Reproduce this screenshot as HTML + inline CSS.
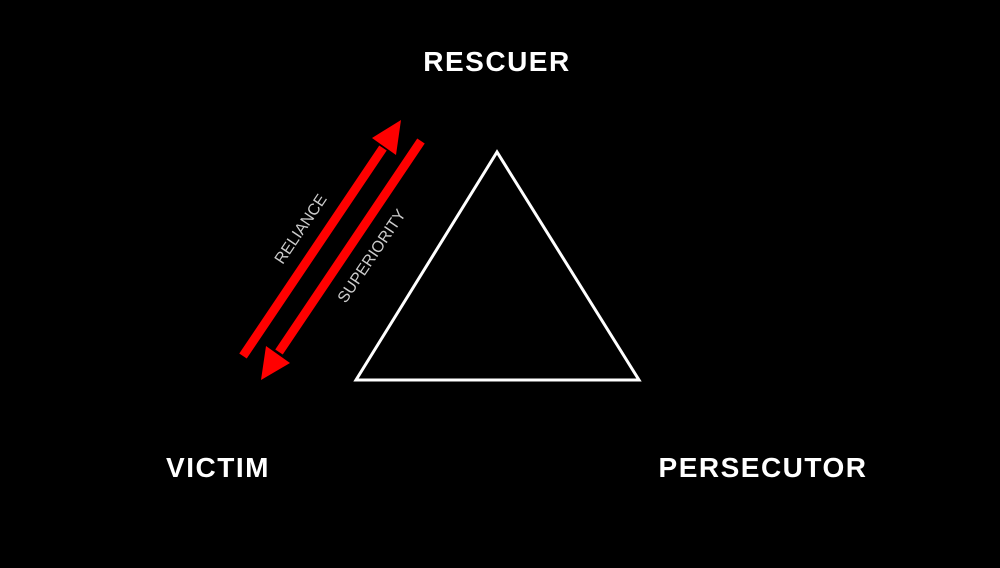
<!DOCTYPE html>
<html><head><style>
html,body{margin:0;padding:0;background:#000;}
body{width:1000px;height:563px;overflow:hidden;}
</style></head><body>
<svg width="1000" height="563" viewBox="0 0 1000 563" xmlns="http://www.w3.org/2000/svg">
<rect width="1000" height="563" fill="#000"/>
<g font-family="Liberation Sans, sans-serif" font-weight="bold" fill="#fff" font-size="28" text-anchor="middle" letter-spacing="1.5">
<text x="497" y="71">RESCUER</text>
<text x="218" y="477">VICTIM</text>
<text x="763" y="477">PERSECUTOR</text>
</g>
<polygon points="497,152 356,380 639,380" fill="none" stroke="#fff" stroke-width="3"/>
<line x1="243" y1="356" x2="383" y2="148" stroke="#f00" stroke-width="9"/>
<polygon points="401,120 372,138 396,155" fill="#f00"/>
<line x1="421" y1="141" x2="279" y2="352" stroke="#f00" stroke-width="9"/>
<polygon points="261,380 266,346 290,363" fill="#f00"/>
<g font-family="Liberation Sans, sans-serif" fill="#ccc" font-size="16" text-anchor="middle">
<text transform="translate(305,232) rotate(-56)">RELIANCE</text>
<text transform="translate(376,259) rotate(-56)">SUPERIORITY</text>
</g>
</svg>
</body></html>
